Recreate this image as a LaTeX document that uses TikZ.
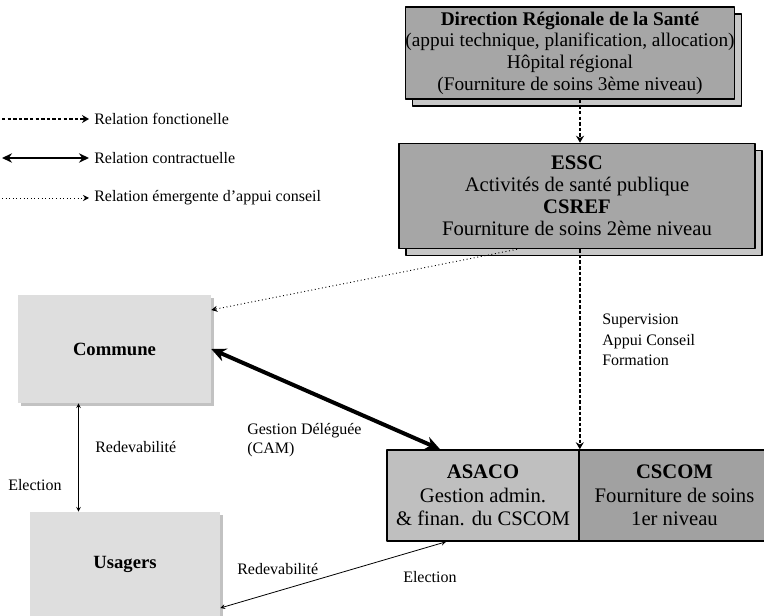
\documentclass[tikz,border=0pt]{standalone}
\usepackage{fontspec}
\setmainfont{Liberation Serif}
\usetikzlibrary{shadows,calc,arrows.meta}
\newdimen\px \px=0.75pt
\begin{document}
\begin{tikzpicture}[x=0.75pt,y=-0.75pt,font=\fontsize{12}{14.3}\selectfont,line join=round,>=stealth,
	bigbox/.style={draw,line width=1.2pt,fill=black!35,inner sep=0pt,align=center,
		copy shadow={shadow xshift=7\px,shadow yshift=-7\px,fill=black!22,draw,line width=0.8pt}},
	cbox/.style={draw,line width=1.2pt,inner sep=0pt,align=center,font=\fontsize{15.5}{17.6}\selectfont},
	lbox/.style={fill=black!13,inner sep=0pt,font=\fontsize{14}{16}\selectfont\bfseries,
		copy shadow={shadow xshift=3\px,shadow yshift=-3\px,fill=black!24,draw=none}},
	lab/.style={anchor=west,inner sep=0pt,align=left},
	fonct/.style={-{Stealth[length=5.2pt,width=6pt]},line width=1.5pt,dash pattern=on 2.6pt off 1.6pt},
	contrat/.style={{Stealth[length=11pt,width=10pt]}-{Stealth[length=11pt,width=10pt]},line width=3pt},
	conseil/.style={-{Stealth[length=4.5pt,width=4.5pt]},line width=0.7pt,dotted},
	rel/.style={<->,line width=0.6pt}]
	\useasboundingbox (0,0) rectangle (764,616);
	% Niveaux
	\node[bigbox,font=\fontsize{14.5}{16.3}\selectfont,minimum width=328\px,minimum height=92\px] (drs) at (570,53)
		{\textbf{Direction Régionale de la Santé}\\(appui technique, planification, allocation)\\Hôpital régional\\(Fourniture de soins 3ème niveau)};
	\node[bigbox,font=\fontsize{15.5}{16.5}\selectfont,minimum width=356\px,minimum height=105\px] (essc) at (577,196)
		{\textbf{ESSC}\\Activités de santé publique\\\textbf{CSREF}\\Fourniture de soins 2ème niveau};
	\node[cbox,fill=black!25,minimum width=192\px,minimum height=91\px] (asaco) at (483,495.5)
		{\textbf{ASACO}\\Gestion admin.\\\& finan. du CSCOM};
	\node[cbox,fill=black!37,minimum width=191\px,minimum height=91\px] (cscom) at (674.5,495.5)
		{\textbf{CSCOM}\\Fourniture de soins\\1er niveau};
	\node[lbox,minimum width=193\px,minimum height=108\px] (commune) at (114.5,349) {Commune};
	\node[lbox,minimum width=190\px,minimum height=104\px] (usagers) at (125,564) {Usagers};
	% Legende
	\node[lab] (lfonct) at (94,119) {Relation fonctionelle};
	\node[lab] (lcontrat) at (94,158) {Relation contractuelle};
	\node[lab] (lconseil) at (94,198) {Relation émergente d'appui conseil};
	\coordinate (afonct) at (2,119);
	\coordinate (acontrat) at (2,158);
	\coordinate (aconseil) at (2,198);
	\draw[fonct] (afonct) -- ([xshift=-5\px]lfonct.west);
	\draw[contrat,line width=2.2pt,{Stealth[length=7.5pt,width=7pt]}-{Stealth[length=7.5pt,width=7pt]}] (acontrat) -- ([xshift=-5\px]lcontrat.west);
	\draw[conseil] (aconseil) -- ([xshift=-5\px]lconseil.west);
	% Relations
	\draw[fonct] ([xshift=10\px]drs.south) -- ([xshift=10\px]drs.south |- essc.north);
	\draw[fonct] (asaco.north east |- essc.south) -- (asaco.north east);
	\draw[conseil] ([xshift=-60\px]essc.south) -- ([yshift=39\px]commune.east);
	\draw[contrat] (commune.east) -- ([xshift=-43\px]asaco.north);
	\draw[rel] ([xshift=-36\px]commune.south) -- ([xshift=-36\px]commune.south |- usagers.north);
	\draw[rel] ([yshift=-44\px]usagers.east) -- ([xshift=-37\px]asaco.south);
	% Textes
	\node[lab] (redev1) at (95,447) {Redevabilité};
	\node[lab] (elec1) at (8,485) {Election};
	\node[lab] (gestion) at (247,440) {Gestion Déléguée\\(CAM)};
	\node[lab] (redev2) at (237,569) {Redevabilité};
	\node[lab] (elec2) at (403,577) {Election};
	\node[lab,font=\fontsize{12}{15.4}\selectfont] (superv) at (602,340) {Supervision\\Appui Conseil\\Formation};
\end{tikzpicture}
\end{document}
